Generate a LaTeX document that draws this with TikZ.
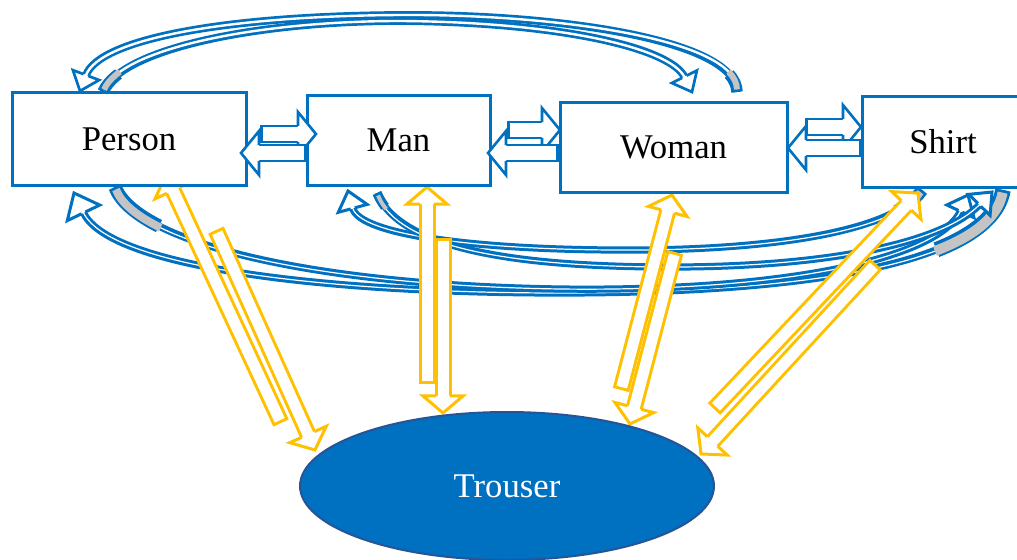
\documentclass[tikz,border=0pt]{standalone}
\usepackage{fontspec}
\setmainfont{Liberation Serif}
\usetikzlibrary{decorations.markings,shapes.geometric}
\definecolor{bblue}{RGB}{0,112,192}
\definecolor{yel}{RGB}{255,192,0}
\definecolor{tgray}{RGB}{196,196,196}
\definecolor{eborder}{RGB}{38,84,150}
\pgfdeclarelayer{curves}
\pgfdeclarelayer{yellows}
\pgfsetlayers{curves,yellows,main}
\tikzset{
  box/.style={draw=bblue, line width=2.25pt, fill=white, rectangle, inner sep=0pt,
    font=\fontsize{26}{31}\selectfont},
  harrow/.style n args={6}{
    preaction={draw=#1, line width={(#2+2*#3)*0.75pt}, shorten >={#5*0.75pt}},
    preaction={draw=#6, line width={#2*0.75pt}, shorten <={#3*0.75pt}, shorten >={(#5-0.4)*0.75pt}},
    postaction={decorate, decoration={markings, mark=at position -0.01pt with {
      \fill[#6] (0pt,0pt) -- ({-#5*0.75pt},{#4*0.75pt}) -- ({-#5*0.75pt},{-#4*0.75pt}) -- cycle;
      \draw[draw=#1, line width={#3*0.75pt}, line join=miter]
        ({-#5*0.75pt},{(#2+#3)*0.375pt}) -- ({-#5*0.75pt},{#4*0.75pt}) -- (0pt,0pt)
        -- ({-#5*0.75pt},{-#4*0.75pt}) -- ({-#5*0.75pt},{-(#2+#3)*0.375pt});
    }}}
  },
  tailband/.style n args={3}{preaction={draw=#3, line width={(#2+5.5)*0.75pt}, dash pattern=on #1 off 3000pt}},
  tailgray/.style n args={2}{preaction={draw=tgray, line width={#2*0.75pt}, shorten <=2pt, dash pattern=on #1 off 3000pt}},
  topcurve/.style={harrow={bblue}{2.4}{2.7}{14}{17}{white}},
  lowcurve/.style={harrow={bblue}{1.2}{3}{15}{18}{white}},
  bigcurve/.style={harrow={bblue}{1.2}{3}{18}{22}{white}},
  yarr/.style={harrow={yel}{11}{3}{20}{17}{white}},
  barr/.style={harrow={bblue}{13.5}{2.6}{22}{18}{white}},
}
\begin{document}
\begin{tikzpicture}[x=0.75pt,y=-0.75pt]
\useasboundingbox (0,0) rectangle (1017,560);

% nodes
\node[box, minimum width=175.5pt, minimum height=69pt] (Person) at (129,139) {Person};
\node[box, minimum width=137.25pt, minimum height=66.75pt] (Man) at (398.5,140.5) {Man};
\node[box, minimum width=170.25pt, minimum height=67.5pt] (Woman) at (673.5,147) {Woman};
\begin{scope}
  \clip (0,0) rectangle (1017,560);
  \node[box, minimum width=121.5pt, minimum height=68.25pt] (Shirt) at (943,142) {Shirt};
\end{scope}
\node[ellipse, draw=eborder, line width=1.5pt, fill=bblue, text=white, inner sep=0pt,
      minimum width=310.5pt, minimum height=111pt, font=\fontsize{26}{31}\selectfont]
      (Trouser) at (507,486) {Trouser};

% free ends of connectors
\coordinate (t1s) at (737,92);  \coordinate (t1e) at (80,91);
\coordinate (t2s) at (103,92);  \coordinate (t2e) at (692,92);
\coordinate (b1s) at (1003,190); \coordinate (b1e) at (74,193);
\coordinate (b2s) at (115,187); \coordinate (b2e) at (968,195);
\coordinate (cs) at (922,190);  \coordinate (ce) at (348,191);
\coordinate (ds) at (377,193);  \coordinate (de) at (992,192);

\coordinate (y1us) at (281,423); \coordinate (y1ue) at (166,175);
\coordinate (y1ds) at (216,230); \coordinate (y1de) at (315,450);
\coordinate (y2us) at (427,384); \coordinate (y2ue) at (427,187);
\coordinate (y2ds) at (443,238); \coordinate (y2de) at (443,413);
\coordinate (y3us) at (621,390); \coordinate (y3ue) at (672,195);
\coordinate (y3ds) at (675,252); \coordinate (y3de) at (630,424);
\coordinate (y4us) at (714,409); \coordinate (y4ue) at (918,193);
\coordinate (y4ds) at (876,264); \coordinate (y4de) at (701,454);

\coordinate (r1s) at (260,134); \coordinate (r1e) at (316,134);
\coordinate (l1s) at (307,153); \coordinate (l1e) at (241,153);
\coordinate (r2s) at (507,130); \coordinate (r2e) at (560,130);
\coordinate (l2s) at (559,153); \coordinate (l2e) at (488,153);
\coordinate (r3s) at (805,127); \coordinate (r3e) at (861,127);
\coordinate (l3s) at (862,148); \coordinate (l3e) at (788,148);

% blue curved arrows
\begin{pgfonlayer}{curves}
\path[tailband={15pt}{6}{bblue}, topcurve, tailgray={15pt}{6}]
  (t1s) .. controls (736,40) and (560,14) .. (400,15) .. controls (230,16) and (100,38) .. (t1e);
\path[tailband={18pt}{6}{bblue}, topcurve, tailgray={18pt}{6}]
  (t2s) .. controls (122,48) and (260,21) .. (400,21) .. controls (560,22) and (670,48) .. (t2e);
\path[tailband={70pt}{10}{bblue}, bigcurve, tailgray={70pt}{10}]
  (b1s) .. controls (990,265) and (800,293) .. (560,293) .. controls (330,293) and (110,268) .. (b1e);
\path[tailband={45pt}{8}{bblue}, lowcurve, tailgray={45pt}{8}]
  (b2s) .. controls (135,240) and (300,285) .. (560,289) .. controls (800,292) and (940,255) .. (b2e);
\path[tailband={25pt}{7}{bblue}, lowcurve, tailgray={25pt}{7}]
  (cs) .. controls (895,230) and (780,249) .. (640,250) .. controls (480,251) and (360,235) .. (ce);
\path[tailband={12pt}{4}{bblue}, lowcurve, tailgray={12pt}{4}]
  (ds) .. controls (400,250) and (520,266) .. (660,267) .. controls (820,268) and (940,245) .. (de);
\end{pgfonlayer}

% yellow block arrows
\begin{pgfonlayer}{yellows}
\path[yarr] (y1us) -- (y1ue);
\path[yarr] (y1ds) -- (y1de);
\path[yarr] (y2us) -- (y2ue);
\path[yarr] (y2ds) -- (y2de);
\path[yarr] (y3us) -- (y3ue);
\path[yarr] (y3ds) -- (y3de);
\path[yarr] (y4us) -- (y4ue);
\path[yarr] (y4ds) -- (y4de);
\end{pgfonlayer}

% blue horizontal block arrows
\path[barr] (r1s) -- (r1e);
\path[barr] (l1s) -- (l1e);
\path[barr] (r2s) -- (r2e);
\path[barr] (l2s) -- (l2e);
\path[barr] (r3s) -- (r3e);
\path[barr] (l3s) -- (l3e);
\end{tikzpicture}
\end{document}
